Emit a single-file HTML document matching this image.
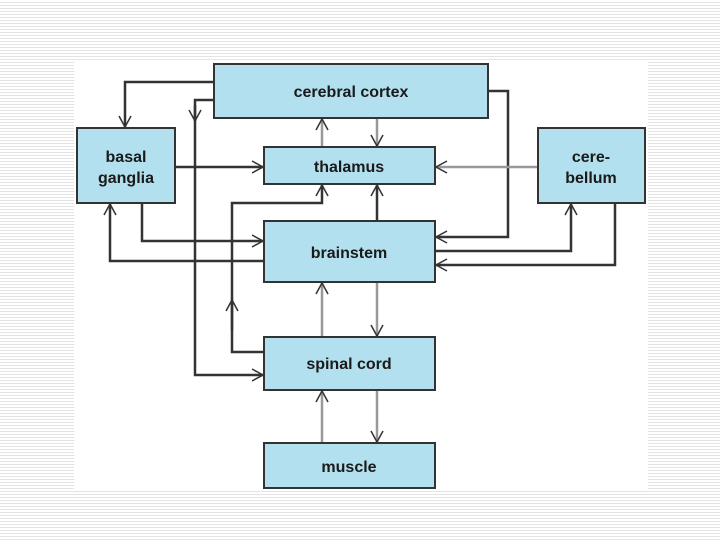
<!DOCTYPE html>
<html><head><style>
body{margin:0;width:720px;height:540px;overflow:hidden;background:repeating-linear-gradient(#fff 0,#fff 2px,#e4e4e4 2px,#e4e4e4 3px);}
svg{position:absolute;left:0;top:0}
text{font-family:"Liberation Sans",sans-serif;font-weight:bold;font-size:16px;fill:#1a1a1a;text-anchor:middle}
</style></head><body>
<svg width="720" height="540" viewBox="0 0 720 540">
<defs>
<marker id="a" markerWidth="14" markerHeight="14" refX="12" refY="7" orient="auto" markerUnits="userSpaceOnUse">
<path d="M1,1 L12,7 L1,13" fill="none" stroke="#333" stroke-width="1.5"/>
</marker>
</defs>
<rect x="74" y="61" width="574" height="429" fill="#fff"/>
<g fill="none" stroke="#333" stroke-width="2.5">
<polyline points="214,82 125,82 125,127" marker-end="url(#a)"/>
<polyline points="214,100 195,100 195,375 263,375" marker-end="url(#a)"/>
<line x1="195" y1="105" x2="195" y2="121" marker-end="url(#a)"/>
<line x1="175" y1="167" x2="263" y2="167" marker-end="url(#a)"/>
<line x1="322" y1="147" x2="322" y2="119" marker-end="url(#a)" stroke="#999"/>
<line x1="377" y1="118" x2="377" y2="146" marker-end="url(#a)" stroke="#999"/>
<polyline points="264,352 232,352 232,203 322,203 322,185" marker-end="url(#a)"/>
<line x1="232" y1="330" x2="232" y2="300" marker-end="url(#a)"/>
<line x1="377" y1="221" x2="377" y2="185" marker-end="url(#a)"/>
<polyline points="142,203 142,241 263,241" marker-end="url(#a)"/>
<polyline points="264,261 110,261 110,204" marker-end="url(#a)"/>
<polyline points="488,91 508,91 508,237 436,237" marker-end="url(#a)"/>
<line x1="538" y1="167" x2="436" y2="167" marker-end="url(#a)" stroke="#999"/>
<polyline points="435,251 571,251 571,204" marker-end="url(#a)"/>
<polyline points="615,203 615,265 436,265" marker-end="url(#a)"/>
<line x1="322" y1="337" x2="322" y2="283" marker-end="url(#a)" stroke="#999"/>
<line x1="377" y1="282" x2="377" y2="336" marker-end="url(#a)" stroke="#999"/>
<line x1="322" y1="443" x2="322" y2="391" marker-end="url(#a)" stroke="#999"/>
<line x1="377" y1="390" x2="377" y2="442" marker-end="url(#a)" stroke="#999"/>
</g>
<g fill="#b3e0ee" stroke="#333" stroke-width="2">
<rect x="214" y="64" width="274" height="54"/>
<rect x="77" y="128" width="98" height="75"/>
<rect x="264" y="147" width="171" height="37"/>
<rect x="538" y="128" width="107" height="75"/>
<rect x="264" y="221" width="171" height="61"/>
<rect x="264" y="337" width="171" height="53"/>
<rect x="264" y="443" width="171" height="45"/>
</g>
<text x="351" y="97">cerebral cortex</text>
<text x="126" y="162">basal</text>
<text x="126" y="183">ganglia</text>
<text x="349" y="172">thalamus</text>
<text x="591" y="162">cere-</text>
<text x="591" y="183">bellum</text>
<text x="349" y="258">brainstem</text>
<text x="349" y="369">spinal cord</text>
<text x="349" y="472">muscle</text>
</svg>
</body></html>
